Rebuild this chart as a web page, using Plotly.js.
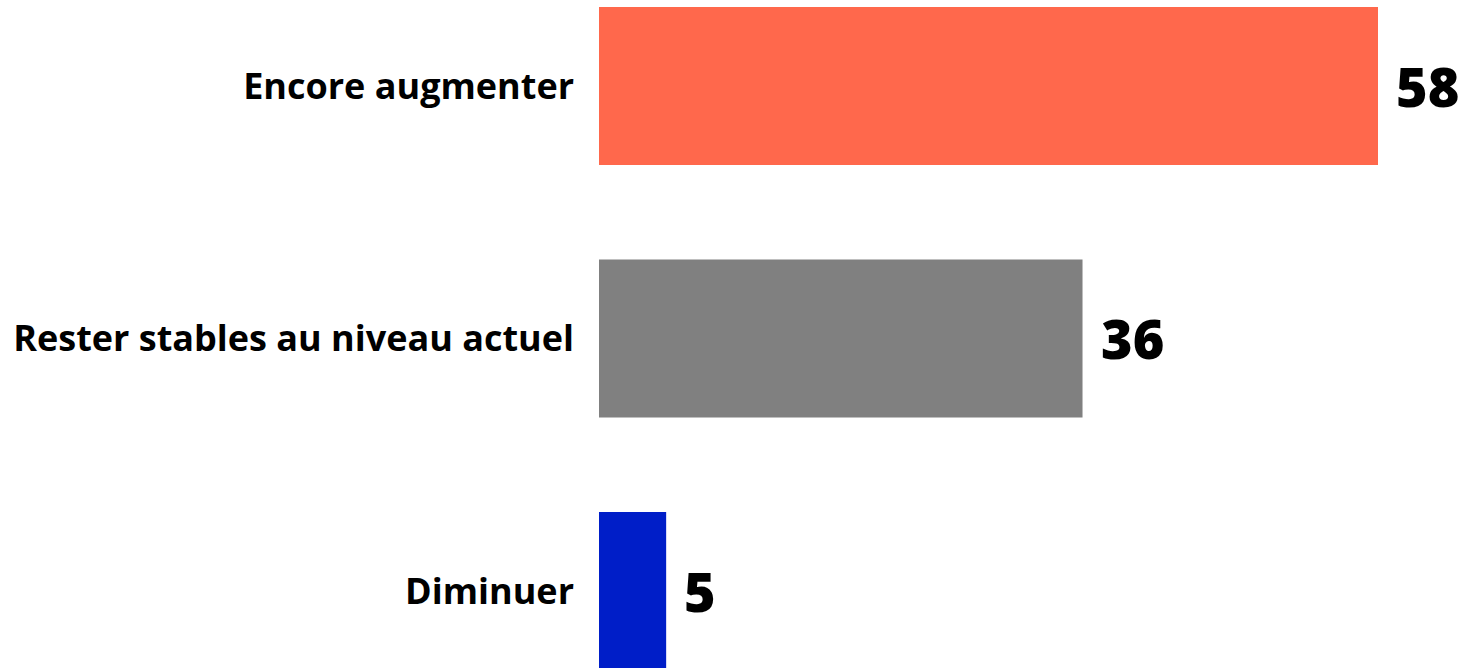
<!DOCTYPE html>
<html>
<head>
<meta charset="utf-8">
<script src="https://cdn.plot.ly/plotly-3.0.1.min.js"></script>
<style>html,body{margin:0;padding:0;background:#fff;}#chart{width:1468px;height:668px;}</style>
</head>
<body>
<div id="chart"></div>
<script>
const categories = ["Encore augmenter", "Rester stables au niveau actuel", "Diminuer"];
const values = [58, 36, 5];
const colors = ["#FF684C", "#808080", "#001EC8"];

const FONT = "'Open Sans', sans-serif";

const trace = {
  type: "bar",
  orientation: "h",
  y: categories,
  x: values,
  marker: { color: colors },
  width: 0.626,
  hoverinfo: "skip"
};

const annotations = categories.map((c, i) => ({
  x: values[i], y: c, xref: "x", yref: "y",
  text: String(values[i]),
  showarrow: false, xanchor: "left", yanchor: "middle",
  xshift: 16, yshift: 0,
  font: { family: FONT, size: 54, color: "#000", weight: 800 }
}));

const layout = {
  width: 1468, height: 668,
  margin: { l: 599, r: 90, t: 0, b: 0, pad: 0 },
  paper_bgcolor: "#fff", plot_bgcolor: "#fff",
  showlegend: false,
  xaxis: { range: [0, 58], visible: false, fixedrange: true },
  yaxis: {
    type: "category",
    range: [2.305, -0.3406],
    showgrid: false, zeroline: false, showline: false, ticks: "",
    ticklabelstandoff: 24,
    tickfont: { family: FONT, size: 36, color: "#000", weight: 700 },
    fixedrange: true
  },
  annotations: annotations
};

Plotly.newPlot("chart", [trace], layout, { displayModeBar: false, staticPlot: true });
</script>
</body>
</html>
